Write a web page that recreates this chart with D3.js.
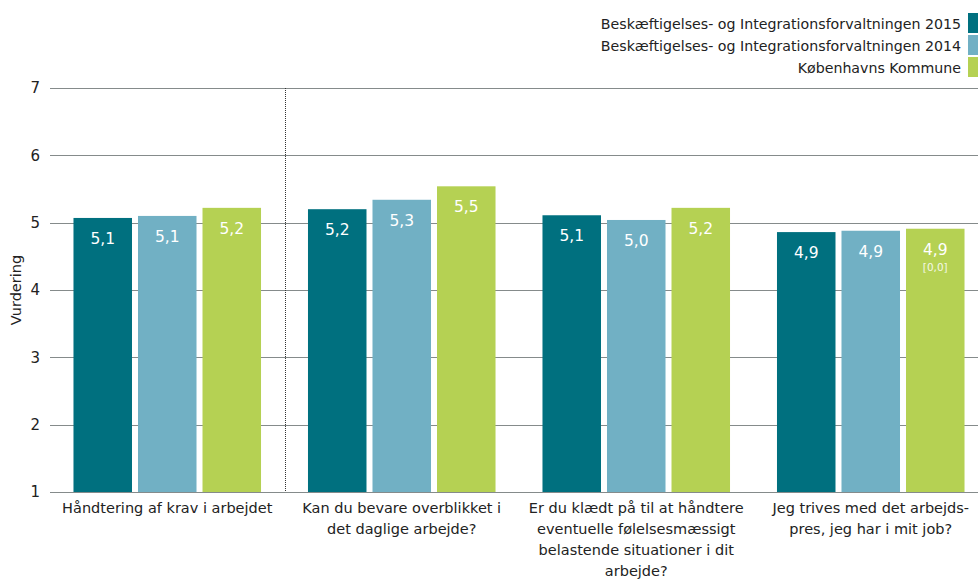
<!DOCTYPE html>
<html>
<head>
<meta charset="utf-8">
<script src="https://cdn.jsdelivr.net/npm/d3@7"></script>
<style>
  html, body { margin: 0; padding: 0; background: #fff; }
  svg { display: block; }
  text { font-family: "DejaVu Sans", Verdana, sans-serif; }
</style>
</head>
<body>
<div id="chart"></div>
<script>
// Spørgsmål (x-akse) – linjeskift angivet pr. kategori
const categories = [
  ["Håndtering af krav i arbejdet"],
  ["Kan du bevare overblikket i", "det daglige arbejde?"],
  ["Er du klædt på til at håndtere", "eventuelle følelsesmæssigt", "belastende situationer i dit", "arbejde?"],
  ["Jeg trives med det arbejds-", "pres, jeg har i mit job?"]
];
const seriesNames = [
  "Beskæftigelses- og Integrationsforvaltningen 2015",
  "Beskæftigelses- og Integrationsforvaltningen 2014",
  "Københavns Kommune"
];
const bif2015 = [5.07, 5.20, 5.11, 4.86];
const bif2014 = [5.10, 5.34, 5.04, 4.88];
const kk      = [5.22, 5.54, 5.22, 4.91];
const extraNotes = [null, null, null, "[0,0]"]; // ekstra note under Københavns Kommune-værdien
const yTicks = [1, 2, 3, 4, 5, 6, 7];
const colors = ["#00707f", "#71b0c4", "#b5d153"];

const W = 978, H = 579;
const margin = { left: 50, right: -10, top: 88, bottom: 87 };

const svg = d3.select("#chart").append("svg").attr("width", W).attr("height", H);

const x0 = d3.scaleBand()
  .domain(d3.range(categories.length))
  .range([margin.left, W - margin.right])
  .paddingInner(0).paddingOuter(0);

const x1 = d3.scaleBand()
  .domain(d3.range(seriesNames.length))
  .range([0, x0.bandwidth()])
  .paddingInner(0.093)
  .paddingOuter(0.364);

const y = d3.scaleLinear().domain([1, 7]).range([H - margin.bottom, margin.top]);

// Gitterlinjer
svg.append("g")
  .selectAll("line")
  .data(yTicks)
  .join("line")
  .attr("x1", margin.left).attr("x2", W)
  .attr("y1", d => Math.round(y(d)) + 0.5).attr("y2", d => Math.round(y(d)) + 0.5)
  .attr("stroke", "#858b8b").attr("stroke-width", 1);

// Y-akse tal
const yAxis = d3.axisLeft(y).tickValues(yTicks).tickSize(0).tickPadding(10).tickFormat(d3.format("d"));
const gy = svg.append("g").attr("transform", `translate(${margin.left},0)`).call(yAxis);
gy.select(".domain").remove();
gy.selectAll("text").attr("font-size", 15).attr("fill", "#222").attr("font-family", "DejaVu Sans, sans-serif");

svg.append("text")
  .attr("transform", `translate(21,${y(4)}) rotate(-90)`)
  .attr("text-anchor", "middle")
  .attr("font-size", 14.5)
  .attr("fill", "#222")
  .text("Vurdering");

// Prikket skillelinje efter første spørgsmål
svg.append("line")
  .attr("x1", Math.round(x0(1)) + 0.5).attr("x2", Math.round(x0(1)) + 0.5)
  .attr("y1", y(7)).attr("y2", y(1))
  .attr("stroke", "#333").attr("stroke-width", 1)
  .attr("stroke-dasharray", "1,1");

const series = [bif2015, bif2014, kk];
const fmt = v => d3.format(".1f")(v).replace(".", ",");

const groups = svg.append("g")
  .selectAll("g")
  .data(categories.map((c, i) => i))
  .join("g")
  .attr("transform", i => `translate(${x0(i)},0)`);

groups.selectAll("rect")
  .data(i => series.map((s, k) => ({ k, v: s[i] })))
  .join("rect")
  .attr("x", d => x1(d.k))
  .attr("width", x1.bandwidth())
  .attr("y", d => y(d.v))
  .attr("height", d => y(1) - y(d.v))
  .attr("fill", d => colors[d.k]);

groups.selectAll("text.val")
  .data(i => series.map((s, k) => ({ k, v: s[i] })))
  .join("text")
  .attr("class", "val")
  .attr("x", d => x1(d.k) + x1.bandwidth() / 2)
  .attr("y", d => y(d.v) + 26)
  .attr("text-anchor", "middle")
  .attr("font-size", 15.5)
  .attr("fill", "#fff")
  .text(d => fmt(d.v));

groups.filter(i => extraNotes[i])
  .append("text")
  .attr("x", x1(2) + x1.bandwidth() / 2)
  .attr("y", i => y(kk[i]) + 42)
  .attr("text-anchor", "middle")
  .attr("font-size", 10.5)
  .attr("fill", "#f4f8e6")
  .text(i => extraNotes[i]);

// Kategori-etiketter
groups.append("text")
  .attr("text-anchor", "middle")
  .attr("font-size", 14.5)
  .attr("fill", "#222")
  .selectAll("tspan")
  .data(i => categories[i])
  .join("tspan")
  .attr("x", x0.bandwidth() / 2)
  .attr("y", (d, j) => y(1) + 21 + j * 21)
  .text(d => d);

// Signaturforklaring
const legend = svg.append("g");
seriesNames.forEach((name, k) => {
  const ly = 13 + k * 22;
  legend.append("rect")
    .attr("x", 968).attr("y", ly).attr("width", 12).attr("height", 20)
    .attr("fill", colors[k]);
  legend.append("text")
    .attr("x", 961).attr("y", ly + 16)
    .attr("text-anchor", "end")
    .attr("font-size", 14.2)
    .attr("fill", "#222")
    .text(name);
});
</script>
</body>
</html>
